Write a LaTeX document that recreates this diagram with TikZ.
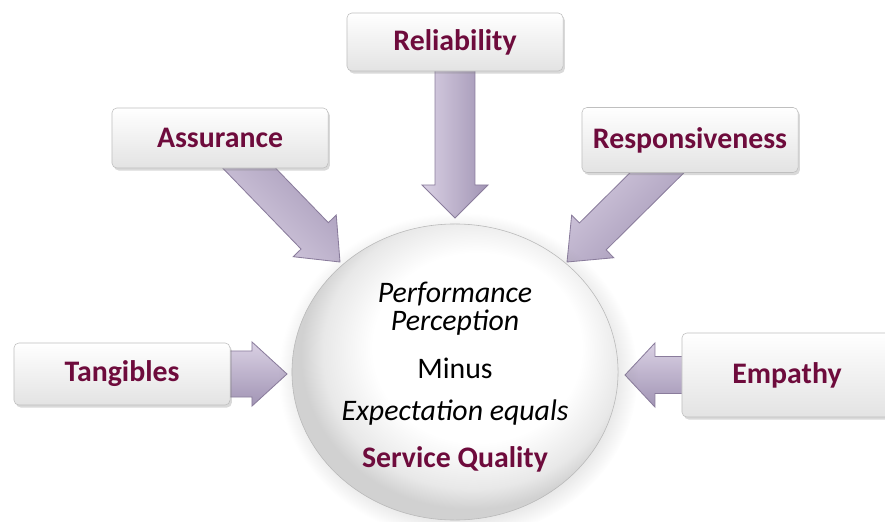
\documentclass[tikz,border=0pt]{standalone}
\usepackage{fontspec}
\setmainfont{Carlito}
\usetikzlibrary{calc,shadows,shapes.geometric}

\definecolor{labelred}{HTML}{6E0B3C}
\definecolor{lavlight}{HTML}{DAD1E4}
\definecolor{lavdark}{HTML}{A194B4}
\definecolor{lavedge}{HTML}{8A7C9C}

% soft white bubble for the centre
\pgfdeclareradialshading{bubble}{\pgfpoint{5bp}{6bp}}{%
  color(0bp)=(white); color(16bp)=(white);
  color(23bp)=(black!9); color(26bp)=(black!18); color(50bp)=(black!18)}

\begin{document}
\begin{tikzpicture}[
        x=0.025cm, y=0.025cm,
        every node/.style={font=\fontsize{21.2}{25}\selectfont},
        factor/.style={
            draw=black!25,
            rounded corners=3.5pt,
            top color=white,
            bottom color=black!11,
            minimum width=5.4cm,
            minimum height=1.5cm,
            text=labelred,
            font=\fontsize{21.2}{25}\selectfont\bfseries,
            drop shadow={opacity=0.3, shadow xshift=1.3pt, shadow yshift=-1.8pt}
        },
        bubblenode/.style={
            ellipse,
            draw=black!28,
            inner sep=0pt,
            shading=bubble,
            minimum width=8.15cm,
            minimum height=7.4cm,
            circular drop shadow={opacity=0.22, shadow xshift=2pt, shadow yshift=-2.5pt}
        },
        line/.style={anchor=base},
        shaft half/.store in=\shafthalf,
        head half/.store in=\headhalf,
        head len/.store in=\headlen,
        shaft half=13.5pt, head half=21.3pt, head len=25.6pt,
        fatarrow/.style={
            left color=lavlight,
            right color=lavdark,
            draw=lavedge,
            line width=0.6pt,
            to path={
                let \p1=($(\tikztotarget)-(\tikztostart)$),
                    \n1={atan2(\y1,\x1)},
                    \n2={veclen(\x1,\y1)}
                in
                ($(\tikztostart)+(\n1+90:\shafthalf)$)
                -- ($(\tikztostart)+(\n1:\n2-\headlen)+(\n1+90:\shafthalf)$)
                -- ($(\tikztostart)+(\n1:\n2-\headlen)+(\n1+90:\headhalf)$)
                -- (\tikztotarget)
                -- ($(\tikztostart)+(\n1:\n2-\headlen)+(\n1-90:\headhalf)$)
                -- ($(\tikztostart)+(\n1:\n2-\headlen)+(\n1-90:\shafthalf)$)
                -- ($(\tikztostart)+(\n1-90:\shafthalf)$)
                -- cycle
            }
        }
    ]

    \clip (0,0) rectangle (885,521);

    % =========================
    % five dimensions
    % =========================
    \coordinate (tipR) at (455,303);
    \coordinate (tipA) at (340,259);
    \coordinate (tipS) at (567,259);
    \coordinate (tipT) at (287,147);
    \coordinate (tipE) at (625,146);

    \coordinate (relC) at (455,479);
    \coordinate (assC) at (220,383);
    \coordinate (resC) at (690,381);
    \coordinate (tanC) at (122,147);
    \coordinate (empC) at (787,146);

    % block arrows go first, boxes sit on their tails
    \shadedraw[fatarrow, shading angle=90, shaft half=14.2pt, head half=23.5pt, head len=23.5pt] (relC) to (tipR);
    \shadedraw[fatarrow, shading angle=135] (assC) to (tipA);
    \shadedraw[fatarrow, shading angle=45] (resC) to (tipS);
    \shadedraw[fatarrow, shading angle=0, shaft half=16.4pt, head half=22.8pt, head len=24.9pt] (tanC) to (tipT);
    \shadedraw[fatarrow, shading angle=0, shaft half=13.2pt, head half=22.8pt, head len=21.3pt] (empC) to (tipE);

    \node[factor, minimum height=1.45cm] (rel) at (relC) {Reliability};
    \node[factor] (ass) at (assC) {Assurance};
    \node[factor, minimum height=1.625cm] (res) at (resC) {Responsiveness};
    \node[factor, minimum height=1.55cm] (tan) at (tanC) {Tangibles};
    \node[factor, minimum width=5.25cm, minimum height=2.1cm] (emp) at (empC) {Empathy};

    % =========================
    % centre: the gap formula
    % =========================
    \node[bubblenode] (gap) at (455,149) {};

    \node[line, font=\fontsize{21.2}{25}\selectfont\itshape] (perf) at (455,219) {Performance};
    \node[line, font=\fontsize{21.2}{25}\selectfont\itshape] (perc) at (455,191) {Perception};
    \node[line] (minus) at (455,143) {Minus};
    \node[line, font=\fontsize{21.2}{25}\selectfont\itshape] (expe) at (455,101) {Expectation equals};
    \node[line, font=\fontsize{21.2}{25}\selectfont\bfseries, text=labelred] (qual) at (455,54) {Service Quality};

\end{tikzpicture}
\end{document}
